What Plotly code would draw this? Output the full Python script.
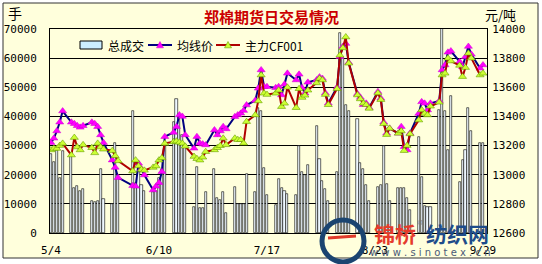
import plotly.graph_objects as go

dates = ["5/4","5/5","5/6","5/7","5/8","5/11","5/12","5/13","5/14","5/15","5/18","5/19","5/20","5/21","5/22","5/25","5/26","5/27",
         "6/1","6/2","6/3","6/4","6/5","6/8","6/9","6/10","6/11","6/12","6/15","6/16","6/17","6/18","6/19","6/22","6/23","6/24","6/25","6/26","6/29","6/30",
         "7/1","7/2","7/3","7/6","7/7","7/8","7/9","7/10","7/13","7/14","7/15","7/16","7/17","7/20","7/21","7/22","7/23","7/24","7/27","7/28","7/29","7/30","7/31",
         "8/3","8/4","8/5","8/6","8/7","8/10","8/11","8/12","8/13","8/14","8/17","8/18","8/19","8/20","8/21","8/24","8/25","8/26","8/27","8/28","8/31",
         "9/1","9/2","9/3","9/4","9/7","9/8","9/9","9/10","9/11","9/14","9/15","9/16","9/17","9/18","9/21","9/22","9/23","9/24","9/25","9/28","9/29"]

volume = [27000,24500,28500,19000,28000,27000,15500,16000,14500,15000,11000,10500,11000,22000,11500,10000,31000,19000,
          42000,17000,21000,16500,14500,14000,14500,19000,22000,30000,38000,46000,41000,33500,30000,9000,22500,8500,8500,14000,22000,12000,
          11300,14200,6800,15700,10000,10000,10000,20300,14200,43000,42000,22200,13000,9600,18500,15500,14300,13300,13000,29800,20800,20000,23300,
          36800,25500,18000,15000,11000,21000,68500,60000,44000,42000,39000,24000,21800,16500,11000,15900,16500,29900,16700,11000,15400,
          15400,15400,12000,8000,33000,19300,9400,9000,9000,42200,76000,42000,28500,47000,17600,25000,28500,43000,35000,30800,31000]

avg_price = [13220,13250,13300,13360,13437,13360,13350,13336,13325,13336,13360,13350,13330,13273,13220,13100,13050,12980,
             12925,12920,13078,13040,12998,12895,12920,12945,13021,13261,13290,13330,13410,13400,13273,13181,13261,13216,13210,13204,13307,13273,
             13300,13330,13314,13398,13410,13421,13440,13478,13510,13593,13719,13604,13604,13597,13604,13547,13620,13696,13650,13689,13597,13559,13634,
             13650,13670,13660,13560,13490,13600,13810,13880,13900,13770,13555,13530,13480,13490,13460,13570,13524,13360,13284,13318,13284,
             13330,13192,13170,13284,13420,13500,13490,13444,13490,13506,13719,13753,13840,13849,13776,13741,13810,13880,13826,13730,13753]

main_price = [13170,13180,13180,13200,13215,13135,13255,13190,13170,13205,13185,13150,13215,13190,13175,13165,13130,13095,
              13025,13100,13060,13035,13030,13050,13060,13100,13115,13215,13225,13230,13222,13215,13195,13125,13110,13100,13120,13158,13170,13185,
              13199,13250,13205,13250,13240,13240,13216,13364,13410,13506,13684,13559,13550,13559,13580,13467,13490,13600,13460,13590,13530,13545,13580,
              13630,13660,13650,13550,13480,13590,13820,13870,13945,13765,13547,13520,13490,13480,13455,13560,13515,13350,13275,13318,13284,
              13300,13165,13200,13280,13375,13444,13420,13410,13470,13497,13684,13696,13799,13780,13750,13673,13735,13833,13800,13684,13696]

series_names = ["总成交", "均线价", "主力CF001"]
tick_dates = ["2009-05-04", "2009-06-10", "2009-07-17", "2009-08-23", "2009-09-29"]
tick_text = ["5/4", "6/10", "7/17", "8/23", "9/29"]

x = ["2009-%02d-%02d" % (int(d.split("/")[0]), int(d.split("/")[1])) for d in dates]

W, H = 542, 264
L, R, T, B = 50, 55, 29, 31
PW, PH = W - L - R, H - T - B

def px(xp):
    return (xp - L) / PW

def py(yp):
    return (H - B - yp) / PH

BG = "#FFFFDC"
BAR_FILL = "#EEF8FF"
AVG_LINE, AVG_MARK, AVG_EDGE = "#000080", "#FF00FF", "#CC00CC"
MAIN_LINE, MAIN_MARK, MAIN_EDGE = "#B00000", "#CCFF33", "#66A000"
tick_font = dict(family="DejaVu Sans Mono", size=11, color="black")
transparent = "rgba(0,0,0,0)"

fig = go.Figure()
fig.add_trace(go.Bar(
    x=x, y=volume, name=series_names[0], width=0.72 * 86400000,
    marker=dict(color=BAR_FILL, line=dict(color="black", width=0.6)),
))
fig.add_trace(go.Scatter(
    x=x, y=avg_price, name=series_names[1], yaxis="y2", mode="lines+markers",
    line=dict(color=AVG_LINE, width=2),
    marker=dict(symbol="triangle-up", size=7, color=AVG_MARK, line=dict(color=AVG_EDGE, width=0.5)),
))
fig.add_trace(go.Scatter(
    x=x, y=main_price, name=series_names[2], yaxis="y2", mode="lines+markers",
    line=dict(color=MAIN_LINE, width=2),
    marker=dict(symbol="triangle-up", size=7, color=MAIN_MARK, line=dict(color=MAIN_EDGE, width=0.6)),
))

def tri_path(cx, cy, s=3.5):
    return "M %f %f L %f %f L %f %f Z" % (px(cx), py(cy - s), px(cx - s), py(cy + s * 0.8), px(cx + s), py(cy + s * 0.8))

LEG_Y = 45
shapes = [
    dict(type="rect", xref="paper", yref="paper", x0=px(3), x1=px(538), y0=py(258), y1=py(3),
         line=dict(color="#333333", width=1), fillcolor=BG, layer="below"),
    # legend
    dict(type="rect", xref="paper", yref="paper", x0=px(80), x1=px(102), y0=py(49), y1=py(41),
         line=dict(color="black", width=1), fillcolor="#CCEEFF"),
    dict(type="line", xref="paper", yref="paper", x0=px(148), x1=px(172), y0=py(LEG_Y), y1=py(LEG_Y),
         line=dict(color=AVG_LINE, width=2)),
    dict(type="path", xref="paper", yref="paper", path=tri_path(160, LEG_Y),
         fillcolor=AVG_MARK, line=dict(color=AVG_EDGE, width=0.5)),
    dict(type="line", xref="paper", yref="paper", x0=px(216), x1=px(240), y0=py(LEG_Y), y1=py(LEG_Y),
         line=dict(color=MAIN_LINE, width=2)),
    dict(type="path", xref="paper", yref="paper", path=tri_path(228, LEG_Y),
         fillcolor=MAIN_MARK, line=dict(color=MAIN_EDGE, width=0.6)),
    # watermark logo
    dict(type="circle", xref="paper", yref="paper", x0=px(322), x1=px(364), y0=py(262), y1=py(220),
         line=dict(color="#1B4470", width=5), fillcolor=transparent, layer="above"),
    dict(type="line", xref="paper", yref="paper", x0=px(328), x1=px(356), y0=py(238), y1=py(236),
         line=dict(color="#E03A2A", width=3), layer="above"),
]

leg_font = dict(family="Noto Sans CJK SC", size=12, color="black")
annotations = [
    dict(text=series_names[0], x=px(106), y=py(LEG_Y), xref="paper", yref="paper", showarrow=False,
         font=leg_font, xanchor="left", yanchor="middle"),
    dict(text=series_names[1], x=px(175), y=py(LEG_Y), xref="paper", yref="paper", showarrow=False,
         font=leg_font, xanchor="left", yanchor="middle"),
    dict(text=series_names[2], x=px(243), y=py(LEG_Y), xref="paper", yref="paper", showarrow=False,
         font=leg_font, xanchor="left", yanchor="middle"),
    dict(text="<b>郑棉期货日交易情况</b>", x=px(271), y=py(16), xref="paper", yref="paper", showarrow=False,
         font=dict(family="Noto Sans CJK SC", size=15, color="#CC0000"), xanchor="center", yanchor="middle"),
    dict(text="手", x=px(6), y=py(13), xref="paper", yref="paper", showarrow=False,
         font=dict(family="Noto Sans CJK SC", size=14, color="black"), xanchor="left", yanchor="middle"),
    dict(text="元/吨", x=px(483), y=py(14), xref="paper", yref="paper", showarrow=False,
         font=dict(family="Noto Sans CJK SC", size=13, color="black"), xanchor="left", yanchor="middle"),
    dict(text="<b>锦桥</b>", x=px(372), y=py(233), xref="paper", yref="paper", showarrow=False,
         font=dict(family="Noto Sans CJK SC", size=21, color="#E53B2B"), xanchor="left", yanchor="middle"),
    dict(text="®", x=px(420), y=py(223), xref="paper", yref="paper", showarrow=False,
         font=dict(family="DejaVu Sans", size=7, color="#777777"), xanchor="center", yanchor="middle"),
    dict(text="<b>纺织网</b>", x=px(424), y=py(233), xref="paper", yref="paper", showarrow=False,
         font=dict(family="Noto Sans CJK SC", size=21, color="#1E4C8A"), xanchor="left", yanchor="middle"),
    dict(text="w w w . s i n o t e x . c n", x=px(430), y=py(252), xref="paper", yref="paper", showarrow=False,
         font=dict(family="DejaVu Sans", size=10, color="#4A5A78"), xanchor="center", yanchor="middle"),
]

fig.update_layout(
    width=W, height=H,
    margin=dict(l=L, r=R, t=T, b=B, pad=0),
    paper_bgcolor="white", plot_bgcolor=BG,
    showlegend=False,
    bargap=0,
    xaxis=dict(type="date", range=["2009-05-03 16:00", "2009-09-30 09:00"],
               tickvals=tick_dates, ticktext=tick_text, tickfont=tick_font,
               showgrid=False, showline=True, linecolor="black", linewidth=1, mirror=True,
               ticks="outside", ticklen=7, tickcolor=transparent, zeroline=False, automargin=False),
    yaxis=dict(range=[0, 70000], dtick=10000, tickfont=tick_font, showgrid=True, gridcolor="black", gridwidth=1,
               showline=True, linecolor="black", linewidth=1, mirror=True,
               ticks="outside", ticklen=10, tickcolor=transparent, zeroline=False, tickformat="d", automargin=False),
    yaxis2=dict(range=[12600, 14000], dtick=200, overlaying="y", side="right", tickfont=tick_font,
                showgrid=False, showline=False, ticks="outside", ticklen=2, tickcolor=transparent,
                zeroline=False, tickformat="d", automargin=False),
    shapes=shapes, annotations=annotations,
)

fig.write_html("out.html")
